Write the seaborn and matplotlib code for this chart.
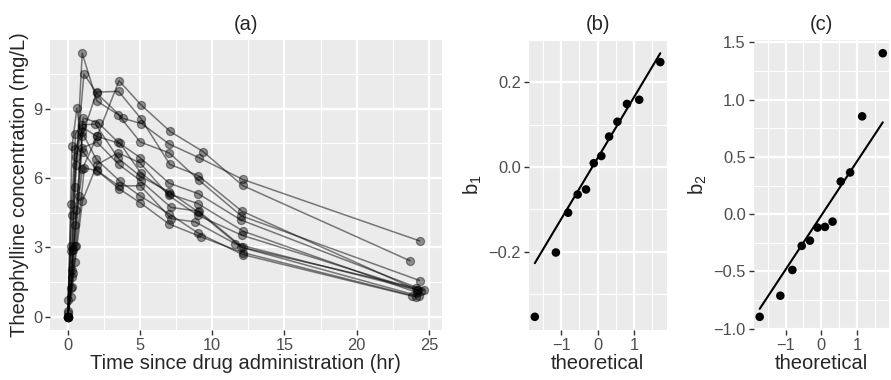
import numpy as np
import pandas as pd
import matplotlib
matplotlib.use("Agg")
import matplotlib.pyplot as plt
import seaborn as sns
from matplotlib.ticker import MultipleLocator
from statistics import NormalDist

# Theophylline data, one list per subject
time_1 = [0, 0.25, 0.57, 1.12, 2.02, 3.82, 5.10, 7.03, 9.05, 12.12, 24.37]
conc_1 = [0.74, 2.84, 6.57, 10.50, 9.66, 8.58, 8.36, 7.47, 6.89, 5.94, 3.28]
time_2 = [0, 0.27, 0.52, 1.00, 1.92, 3.50, 5.02, 7.03, 9.00, 12.00, 24.30]
conc_2 = [0.00, 1.72, 7.91, 8.31, 8.33, 6.85, 6.08, 5.40, 4.55, 3.01, 0.90]
time_3 = [0, 0.27, 0.58, 1.02, 2.02, 3.62, 5.08, 7.07, 9.00, 12.15, 24.17]
conc_3 = [0.00, 4.40, 6.90, 8.20, 7.80, 7.50, 6.20, 5.30, 4.90, 3.70, 1.05]
time_4 = [0, 0.35, 0.60, 1.07, 2.13, 3.50, 5.02, 7.02, 9.02, 11.98, 24.65]
conc_4 = [0.00, 1.89, 4.60, 8.60, 8.38, 7.54, 6.88, 5.78, 5.33, 4.19, 1.15]
time_5 = [0, 0.30, 0.52, 1.00, 2.02, 3.50, 5.02, 7.02, 9.10, 12.00, 24.35]
conc_5 = [0.00, 2.02, 5.63, 11.40, 9.33, 8.74, 7.56, 7.09, 5.90, 4.37, 1.57]
time_6 = [0, 0.27, 0.58, 1.15, 2.03, 3.57, 5.00, 7.00, 9.22, 12.10, 23.85]
conc_6 = [0.00, 1.29, 3.08, 6.44, 6.32, 5.53, 4.94, 4.02, 3.46, 2.78, 0.92]
time_7 = [0, 0.25, 0.50, 1.02, 2.02, 3.48, 5.00, 6.98, 9.00, 12.05, 24.22]
conc_7 = [0.15, 0.85, 2.35, 5.02, 6.58, 7.09, 6.66, 5.25, 4.39, 3.53, 1.15]
time_8 = [0, 0.25, 0.52, 0.98, 2.02, 3.53, 5.05, 7.15, 9.07, 12.10, 24.12]
conc_8 = [0.00, 3.05, 3.05, 7.31, 7.56, 6.59, 5.88, 4.73, 4.57, 3.00, 1.25]
time_9 = [0, 0.30, 0.63, 1.05, 2.02, 3.53, 5.02, 7.17, 8.80, 11.60, 24.43]
conc_9 = [0.00, 7.37, 9.03, 7.14, 6.33, 5.66, 5.67, 4.24, 4.11, 3.16, 1.12]
time_10 = [0, 0.37, 0.77, 1.02, 2.05, 3.55, 5.05, 7.08, 9.38, 12.10, 23.70]
conc_10 = [0.24, 2.89, 5.22, 6.41, 7.83, 10.21, 9.18, 8.02, 7.14, 5.68, 2.42]
time_11 = [0, 0.25, 0.50, 0.98, 1.98, 3.60, 5.02, 7.03, 9.03, 12.12, 24.08]
conc_11 = [0.00, 4.86, 7.24, 8.00, 6.81, 5.87, 5.22, 4.45, 3.62, 2.69, 0.86]
time_12 = [0, 0.25, 0.50, 1.00, 2.00, 3.52, 5.07, 7.07, 9.03, 12.05, 24.15]
conc_12 = [0.00, 1.25, 3.96, 7.82, 9.72, 9.75, 8.57, 6.59, 6.11, 4.57, 1.17]

times = [time_1, time_2, time_3, time_4, time_5, time_6,
         time_7, time_8, time_9, time_10, time_11, time_12]
concs = [conc_1, conc_2, conc_3, conc_4, conc_5, conc_6,
         conc_7, conc_8, conc_9, conc_10, conc_11, conc_12]

# random effects
b1 = [-0.354, -0.202, -0.108, -0.065, -0.053, 0.009, 0.026, 0.072, 0.107, 0.149, 0.159, 0.248]
b2 = [-0.896, -0.712, -0.487, -0.277, -0.231, -0.117, -0.111, -0.065, 0.285, 0.364, 0.854, 1.405]

rows = []
for i, (t, c) in enumerate(zip(times, concs)):
    for tt, cc in zip(t, c):
        rows.append((i + 1, tt, cc))
theo = pd.DataFrame(rows, columns=["Subject", "Time", "conc"])

sns.set_theme(style="darkgrid")
plt.rcParams.update({
    "font.family": ["Liberation Sans", "DejaVu Sans"],
    "axes.facecolor": "#EBEBEB",
    "grid.color": "white",
    "axes.edgecolor": "#EBEBEB",
    "xtick.color": "#333333",
    "ytick.color": "#333333",
    "xtick.labelcolor": "#4D4D4D",
    "ytick.labelcolor": "#4D4D4D",
    "xtick.labelsize": 11.8,
    "ytick.labelsize": 11.8,
    "axes.labelsize": 14.5,
    "axes.titlesize": 14.5,
    "xtick.bottom": True,
    "ytick.left": True,
    "xtick.major.size": 3.6,
    "ytick.major.size": 3.6,
    "xtick.major.width": 1.0,
    "ytick.major.width": 1.0,
    "xtick.major.pad": 2,
    "ytick.major.pad": 2,
})

fig = plt.figure(figsize=(8.91, 3.80), dpi=100)
ax_a = fig.add_axes([0.0561, 0.1316, 0.4396, 0.763])
ax_b = fig.add_axes([0.5932, 0.1316, 0.1549, 0.763])
ax_c = fig.add_axes([0.8457, 0.1316, 0.152, 0.763])


def style_grid(ax, xmaj, xmin, ymaj, ymin):
    ax.xaxis.set_major_locator(MultipleLocator(xmaj))
    ax.xaxis.set_minor_locator(MultipleLocator(xmin))
    ax.yaxis.set_major_locator(MultipleLocator(ymaj))
    ax.yaxis.set_minor_locator(MultipleLocator(ymin))
    ax.grid(which="major", color="white", linewidth=1.6)
    ax.grid(which="minor", color="white", linewidth=0.8)
    ax.tick_params(which="minor", length=0)
    for s in ax.spines.values():
        s.set_visible(False)


def minus_fmt(v, p):
    return f"{v:.1f}".replace("-", "\u2212")


# (a) concentration profiles
sns.lineplot(data=theo, x="Time", y="conc", units="Subject", estimator=None,
             sort=False, color="black", alpha=0.5, linewidth=1.1, ax=ax_a)
sns.scatterplot(data=theo, x="Time", y="conc", color=(0, 0, 0, 0.4),
                s=34, edgecolor=(0, 0, 0, 0.4), linewidth=0.9, ax=ax_a)
ax_a.set_xlim(-1.23, 25.88)
ax_a.set_ylim(-0.57, 11.97)
style_grid(ax_a, 5, 2.5, 3, 1.5)
ax_a.set_xlabel("Time since drug administration (hr)", labelpad=1)
ax_a.set_ylabel("Theophylline concentration (mg/L)", labelpad=3)
ax_a.set_title("(a)", pad=7)


def qq_panel(ax, vals, label, title):
    y = np.sort(np.array(vals))
    n = len(y)
    nd = NormalDist()
    x = np.array([nd.inv_cdf((i + 0.5) / n) for i in range(n)])
    q1, q3 = np.quantile(y, [0.25, 0.75])
    z1, z3 = nd.inv_cdf(0.25), nd.inv_cdf(0.75)
    slope = (q3 - q1) / (z3 - z1)
    inter = q1 - slope * z1
    line = pd.DataFrame({"x": [x[0], x[-1]], "y": [inter + slope * x[0], inter + slope * x[-1]]})
    sns.lineplot(data=line, x="x", y="y", color="black", linewidth=1.5, ax=ax)
    sns.scatterplot(x=x, y=y, color="black", s=38, edgecolor="none", ax=ax, zorder=3)
    lo = min(y.min(), line.y.min())
    hi = max(y.max(), line.y.max())
    pad = (hi - lo) * 0.05
    ax.set_ylim(lo - pad, hi + pad)
    xpad = (x[-1] - x[0]) * 0.05
    ax.set_xlim(x[0] - xpad, x[-1] + xpad)
    ax.set_xlabel("theoretical", labelpad=1)
    ax.set_ylabel(label, labelpad=3)
    ax.set_title(title, pad=7)


qq_panel(ax_b, b1, r"$\mathregular{b_1}$", "(b)")
style_grid(ax_b, 1, 0.5, 0.2, 0.1)
ax_b.yaxis.set_major_formatter(matplotlib.ticker.FuncFormatter(minus_fmt))
qq_panel(ax_c, b2, r"$\mathregular{b_2}$", "(c)")
style_grid(ax_c, 1, 0.5, 0.5, 0.25)
ax_c.yaxis.set_major_formatter(matplotlib.ticker.FuncFormatter(minus_fmt))

fig.savefig("out.png", dpi=100)
